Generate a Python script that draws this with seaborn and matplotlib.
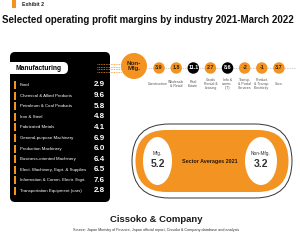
import numpy as np
import pandas as pd
import matplotlib
matplotlib.use("Agg")
import matplotlib.pyplot as plt
from matplotlib.patches import FancyBboxPatch, Ellipse, Circle, Rectangle
import seaborn as sns

# ---------------- data ----------------
mfg_labels = ["Food", "Chemical & Allied Products", "Petroleum & Coal Products",
              "Iron & Steel", "Fabricated Metals", "General-purpose Machinery",
              "Production Machinery", "Business-oriented Machinery",
              "Elect. Machinery, Eqpt. & Supplies", "Information & Comm. Electr. Eqpt.",
              "Transportation Equipment (cars)"]
mfg_values = [2.9, 9.6, 5.8, 4.8, 4.1, 6.9, 6.0, 6.4, 6.5, 7.6, 2.8]

nonmfg_labels = ["Construction", "Wholesale\n& Retail", "Real\nEstate",
                 "Goods\nRental &\nLeasing", "Info &\ncomm.\n(IT)",
                 "Transp.\n& Postal\nServices", "Product.\n& Transp.\nElectricity", "Svcs."]
nonmfg_values = [3.9, 1.8, 11.1, 2.7, 8.6, -2, -1, 3.7]
nonmfg_highlight = [False, False, True, False, True, False, False, False]

avg_labels = ["Mfg.", "Non-Mfg."]
avg_values = [5.2, 3.2]

title = "Selected operating profit margins by industry 2021-March 2022"
brand = "Cissoko & Company"
source = "Source: Japan Ministry of Finance, Japan official report, Cissoko & Company database and analysis"

ORANGE = "#F39322"
DARK = "#222222"
GRAY = "#555555"

sns.set_theme(style="white")
plt.rcParams["font.family"] = ["Liberation Sans Narrow", "Liberation Sans", "DejaVu Sans"]

W, H = 300, 241
fig = plt.figure(figsize=(W / 100, H / 100), dpi=100)
fig.patch.set_facecolor("white")

def px_axes(x0, y0, x1, y1):
    return fig.add_axes([x0 / W, 1 - y1 / H, (x1 - x0) / W, (y1 - y0) / H])

def fit_width(t, max_w):
    fig.canvas.draw()
    w = t.get_window_extent().width
    if w > max_w:
        t.set_fontsize(t.get_fontsize() * max_w / w)

# background canvas in pixel coordinates
ax = px_axes(0, 0, W, H)
ax.set_xlim(0, W)
ax.set_ylim(H, 0)
ax.axis("off")

# header
ax.add_patch(Rectangle((12, 0), 4, 8, color=ORANGE, lw=0))
ax.text(22, 5, "Exhibit 2", fontsize=3.8, fontweight="bold", color=DARK,
        va="center", ha="left")
t_title = ax.text(2, 20, title, fontsize=8.6, fontweight="bold", color="#111111",
                  va="center", ha="left")
fit_width(t_title, 290)

# manufacturing box
ax.add_patch(FancyBboxPatch((10, 52), 100, 150, boxstyle="round,pad=0,rounding_size=5",
                            fc="black", ec="none"))
ax.add_patch(FancyBboxPatch((10, 62), 58, 12, boxstyle="round,pad=0,rounding_size=5",
                            fc="white", ec="none"))
ax.add_patch(Rectangle((10, 62), 8, 12, fc="white", ec="none"))
ax.text(15, 68, "Manufacturing", fontsize=4.8, fontweight="bold", color="black",
        va="center", ha="left")

# dotted connectors
for yy in [64, 66.5, 69, 71.5]:
    ax.plot([97, 122], [yy, yy], color=ORANGE, lw=0.6, ls=(0, (1, 1)))

# manufacturing list (inset axes with index-based rows)
axm = px_axes(10, 79.7, 110, 196.3)
axm.set_xlim(0, 100)
axm.set_ylim(len(mfg_labels) - 0.5, -0.5)
axm.axis("off")
axm.patch.set_alpha(0)
for i, (lab, val) in enumerate(zip(mfg_labels, mfg_values)):
    axm.add_patch(Rectangle((4.3, i - 0.38), 1.6, 0.76, color=ORANGE, lw=0))
    axm.text(10, i, lab, fontsize=3.2, color="white", va="center", ha="left")
    axm.text(95, i, f"{val:.1f}", fontsize=5.8, fontweight="bold", color="white",
             va="center", ha="right")

# Non-Mfg big circle
ax.add_patch(Circle((134, 66), 13, color=ORANGE, lw=0))
ax.text(134, 66, "Non-\nMfg.", fontsize=4.6, fontweight="bold", color="#3a2208",
        va="center", ha="center", linespacing=1.1)
ax.plot([148, 296], [68, 68], color="#bbbbbb", lw=0.5, ls=(0, (2, 1.5)), zorder=0)

# non-manufacturing circles (seaborn scatter on categorical axis)
axn = px_axes(150.5, 60, 287.5, 96)
df = pd.DataFrame({"cat": [l.replace("\n", " ") for l in nonmfg_labels],
                   "val": nonmfg_values,
                   "hl": ["dark" if h else "orange" for h in nonmfg_highlight]})
df["row"] = 0
sns.scatterplot(data=df, x="cat", y="row", hue="hl",
                palette={"dark": "black", "orange": ORANGE},
                s=68, linewidth=0, legend=False, ax=axn, zorder=3)
axn.set_xlim(-0.5, len(df) - 0.5)
axn.set_ylim(28, -8)
axn.axis("off")
axn.patch.set_alpha(0)
for i, (lab, val, hl) in enumerate(zip(nonmfg_labels, nonmfg_values, nonmfg_highlight)):
    txt = f"{val:g}"
    axn.text(i, 0, txt, fontsize=3.9, fontweight="bold",
             color="white" if hl else "#3a2208", va="center", ha="center", zorder=4)
    axn.text(i - (0.06 if i == 0 else 0), 16, lab, fontsize=2.55, color=GRAY,
             va="center", ha="center", linespacing=1.05)

# sector averages capsule
ax.add_patch(FancyBboxPatch((132, 124), 160, 74, boxstyle="round,pad=0,rounding_size=37",
                            fc="white", ec="#333333", lw=0.7))
ax.add_patch(FancyBboxPatch((135.5, 130), 153, 62, boxstyle="round,pad=0,rounding_size=31",
                            fc=ORANGE, ec="none"))
ax.text(210, 162, "Sector Averages 2021", fontsize=3.9, fontweight="bold", color="#2a1805",
        va="center", ha="center")
for cx, w, lab, val in zip([157.5, 261], [29, 32], avg_labels, avg_values):
    ax.add_patch(Ellipse((cx, 161), w, 48, fc="white", ec="none"))
    ax.text(cx, 153.5, lab, fontsize=3.4, color="#333333", va="center", ha="center")
    ax.text(cx, 164, f"{val:.1f}", fontsize=7.5, fontweight="bold", color="#333333",
            va="center", ha="center")

# footer
ax.text(156, 220, brand, fontsize=6.8, fontweight="bold", color="#1a1a1a",
        va="center", ha="center")
ax.text(156, 229.5, source, fontsize=2.7, color="#333333", va="center", ha="center")

fig.savefig("out.png", dpi=100, facecolor="white")
